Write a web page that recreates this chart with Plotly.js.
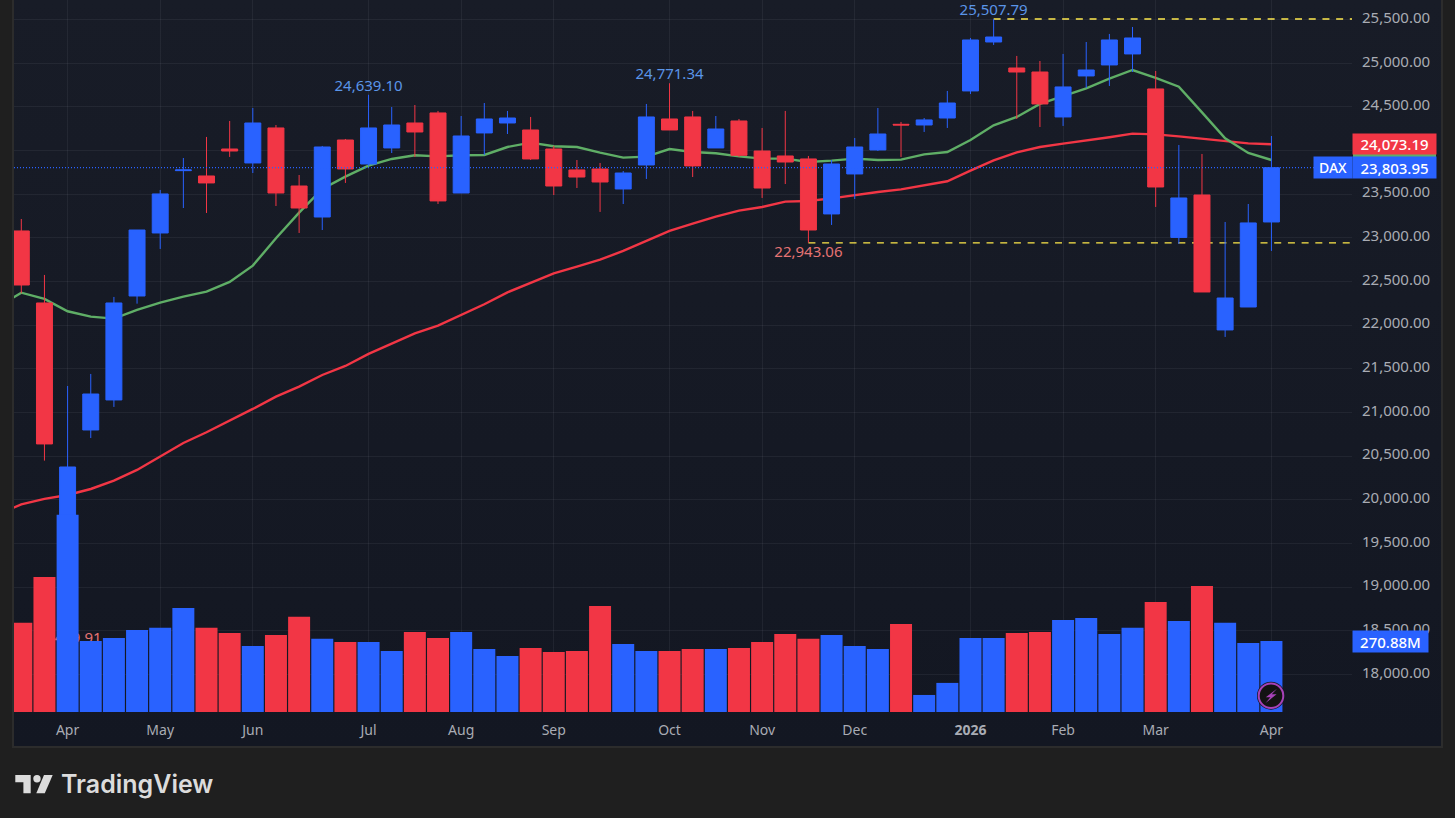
<!DOCTYPE html>
<html>
<head>
<meta charset="utf-8">
<script src="https://cdn.plot.ly/plotly-3.0.1.min.js"></script>
<style>
html,body{margin:0;padding:0;background:#1f1f1f;overflow:hidden;width:1455px;height:818px}
#pane{position:absolute;left:12px;top:-2px;width:1427px;height:746px;border:2px solid #2c2c2c;background:linear-gradient(#181c27,#131722)}
#chart{position:absolute;left:0;top:0;width:1455px;height:818px}
</style>
</head>
<body>
<div id="pane"></div>
<div id="chart"></div>
<script>
const weeks = ["2025-03-24","2025-03-31","2025-04-07","2025-04-14","2025-04-21","2025-04-28","2025-05-05","2025-05-12","2025-05-19","2025-05-26","2025-06-02","2025-06-09","2025-06-16","2025-06-23","2025-06-30","2025-07-07","2025-07-14","2025-07-21","2025-07-28","2025-08-04","2025-08-11","2025-08-18","2025-08-25","2025-09-01","2025-09-08","2025-09-15","2025-09-22","2025-09-29","2025-10-06","2025-10-13","2025-10-20","2025-10-27","2025-11-03","2025-11-10","2025-11-17","2025-11-24","2025-12-01","2025-12-08","2025-12-15","2025-12-22","2025-12-29","2026-01-05","2026-01-12","2026-01-19","2026-01-26","2026-02-02","2026-02-09","2026-02-16","2026-02-23","2026-03-02","2026-03-09","2026-03-16","2026-03-23","2026-03-30","2026-04-06"];
const opens = [23079,22254,19800,20799,21143,22334,23056,23770,23709,24018,23858,24259,23594,23239,24121,23846,24030,24316,24431,23514,24202,24316,24236,24018,23778,23789,23560,23835,24362,24385,24030,24339,23995,23938,23904,23274,23732,24007,24301,24293,24373,24683,25244,24946,24900,24385,24855,24981,25107,24706,23005,23491,21945,22208,23182];
const highs = [23216,22575,21303,21441,22323,23090,23549,23915,24156,24339,24488,24293,23720,24053,24133,24639.10,24499,24522,24454,24396,24545,24454,24385,24053,23892,23858,23766,24534,24771.34,24454,24396,24362,24259,24454,23938,23892,24144,24488,24328,24373,24683,25290,25507.79,25084,25026,25107,25244,25336,25416,24912,24064,23961,23182,23388,24167];
const lows = [22365,20448,18489.91,20707,21063,22246,22873,23342,23285,23927,23743,23365,23056,23090,23629,23824,23972,23927,23388,23514,23950,24190,23892,23491,23571,23297,23388,23675,24236,23697,24030,23927,23457,23617,22943.06,23148,23445,23995,23927,24213,24259,24648,25210,24362,24270,24282,24717,24740,24900,23354,22930,22380,21865,22208,22850];
const closes = [22460,20639,20375,21211,22254,23090,23503,23778,23629,23995,24316,23514,23342,24041,23789,24259,24293,24213,23423,24167,24362,24373,23904,23594,23697,23640,23743,24385,24236,23824,24247,23946,23571,23869,23090,23846,24041,24190,24293,24351,24545,25267,25301,24900,24534,24729,24923,25267,25290,23583,23457,22380,22311,23171,23803.95];
const volumes = [340,515,752,271,282,313,321,397,321,301,252,294,363,279,267,267,233,305,282,305,240,214,244,229,233,404,259,233,233,240,240,244,267,298,279,294,252,240,336,65,111,282,282,301,305,351,359,298,321,420,347,481,340,263,270.88];
const maDates = ["2025-03-17"].concat(weeks);
const greenMA = [22208,22372,22300,22159,22097,22075,22174,22258,22327,22384,22495,22682,22995,23289,23560,23701,23827,23904,23946,23934,23946,23950,24041,24091,24049,24041,23976,23919,23930,24018,23984,23969,23934,23908,23908,23869,23885,23908,23892,23896,23957,23984,24121,24289,24385,24534,24625,24713,24824,24923,24832,24732,24438,24140,23972,23892];
const redMA = [19837,19946,20009,20054,20123,20218,20341,20493,20650,20773,20902,21040,21181,21296,21429,21532,21670,21792,21906,21994,22117,22239,22376,22487,22594,22670,22750,22850,22968,23079,23163,23243,23312,23354,23415,23423,23453,23491,23526,23556,23598,23648,23770,23888,23980,24041,24079,24114,24152,24194,24186,24163,24137,24106,24083,24073.19];
const priceTicks = [18000,18500,19000,19500,20000,20500,21000,21500,22000,22500,23000,23500,24000,24500,25000,25500];
const timeTickDates = ["2025-04-07","2025-05-05","2025-06-02","2025-07-07","2025-08-04","2025-09-01","2025-10-06","2025-11-03","2025-12-01","2026-01-05","2026-02-02","2026-03-02","2026-04-06"];
const timeTickLabels = ["Apr","May","Jun","Jul","Aug","Sep","Oct","Nov","Dec","<b>2026</b>","Feb","Mar","Apr"];
const highLabelDates = ["2025-07-07","2025-10-06","2026-01-12"];
const highLabelValues = [24639.10,24771.34,25507.79];
const lowLabelDates = ["2025-11-17"];
const lowLabelValues = [22943.06];
const hiddenLowDates = ["2025-04-07"];
const hiddenLowValues = [18489.91];
const labelText = v => v.toLocaleString("en-US",{minimumFractionDigits:2,maximumFractionDigits:2});

const BLUE="#2962ff", RED="#f23645", GREEN="#5fae66", YELLOW="#ffe94a", TICK="#a9acb4";
const FONT="'Noto Sans', sans-serif";
const L=14,R=1352,T=0,B=712;
const px=x=>(x-L)/(R-L), py=y=>(B-y)/(B-T);
const xRange=["2025-03-21 19:00","2026-04-30 08:40"], yRange=[17568,25725];

const traces=[
 {type:"scatter",mode:"lines",x:maDates,y:redMA,line:{color:RED,width:2.4},hoverinfo:"skip",xaxis:"x",yaxis:"y"},
 {type:"scatter",mode:"lines",x:maDates,y:greenMA,line:{color:GREEN,width:2.4},hoverinfo:"skip",xaxis:"x",yaxis:"y"},
 {type:"scatter",mode:"text",x:highLabelDates,y:highLabelValues,text:highLabelValues.map(labelText),textposition:"top center",textfont:{family:FONT,size:15,color:"#5b95e8"},hoverinfo:"skip",xaxis:"x",yaxis:"y"},
 {type:"scatter",mode:"markers+text",x:lowLabelDates,y:lowLabelValues,text:lowLabelValues.map(labelText),textposition:"bottom center",marker:{size:3,opacity:0},textfont:{family:FONT,size:15,color:"#e57373"},hoverinfo:"skip",xaxis:"x",yaxis:"y"},
 {type:"scatter",mode:"text",x:hiddenLowDates,y:hiddenLowValues,text:hiddenLowValues.map(labelText),textposition:"bottom center",textfont:{family:FONT,size:15,color:"#e57373"},hoverinfo:"skip",xaxis:"x",yaxis:"y"},
 {type:"candlestick",x:weeks,open:opens,high:highs,low:lows,close:closes,whiskerwidth:0,
  increasing:{line:{color:BLUE,width:1},fillcolor:BLUE},decreasing:{line:{color:RED,width:1},fillcolor:RED},hoverinfo:"skip",xaxis:"x",yaxis:"y2"},
 {type:"bar",x:weeks,y:volumes,marker:{color:weeks.map((_,i)=>closes[i]>=opens[i]?BLUE:RED),line:{width:0}},hoverinfo:"skip",xaxis:"x",yaxis:"y3"}
];

function box(text,x0,x1,y0,y1,bg,size){
 return {xref:"paper",yref:"paper",x:px((x0+x1)/2),y:py((y0+y1)/2),xanchor:"center",yanchor:"middle",
  width:x1-x0,height:y1-y0,bgcolor:bg,borderpad:0,showarrow:false,align:"center",valign:"middle",text:text,
  font:{family:FONT,size:size||15,color:"#ffffff",weight:500}};
}
const annotations=[
 box(labelText(closes[closes.length-1]),1353,1436,157,178,BLUE),
 box(labelText(redMA[redMA.length-1]),1353,1436,134,154.4,RED),
 box("DAX",1314,1352,157,178,BLUE,14),
 box("270.88M",1353,1428,631,652,BLUE),
 {xref:"paper",yref:"paper",x:px(58.5),y:py(784),xanchor:"left",yanchor:"middle",showarrow:false,text:"TradingView",
  font:{family:"Inter, sans-serif",size:25,color:"#dcdcdc",weight:600}}
];
const circle=(cx,cy,r,fill,line,w)=>({type:"circle",xref:"paper",yref:"paper",x0:px(cx-r),x1:px(cx+r),y0:py(cy+r),y1:py(cy-r),fillcolor:fill,line:{color:line,width:w},layer:"above"});
const poly=(pts,fill)=>({type:"path",xref:"paper",yref:"paper",path:"M"+pts.map(p=>px(p[0])+","+py(p[1])).join("L")+"Z",fillcolor:fill,line:{width:0},layer:"above"});
const shapes=[
 {type:"line",xref:"x",yref:"y",x0:"2026-01-12",x1:xRange[1],y0:25507.79,y1:25507.79,line:{color:YELLOW,width:1.4,dash:"7px,6.7px"},layer:"below"},
 {type:"line",xref:"x",yref:"y",x0:"2025-11-17",x1:xRange[1],y0:22943.06,y1:22943.06,line:{color:YELLOW,width:1.4,dash:"7px,6.7px"},layer:"below"},
 {type:"line",xref:"paper",yref:"y",x0:0,x1:px(1314),y0:23803.95,y1:23803.95,line:{color:BLUE,width:1.2,dash:"1px,2px"},layer:"above"},
 poly([[1353,154],[1436,154],[1436,157],[1353,157]],GREEN),
 circle(1271,695.7,14,"#131722","#131722",0),
 circle(1271,695.7,12.3,"#131313","#a742b8",2),
 poly([[1277,688.8],[1265.8,697.2],[1270.4,697.2],[1265.6,703],[1276.6,694.2],[1271.8,694.2]],"#a742b8"),
 poly([[15.3,775],[30.7,775],[30.7,793.3],[23.4,793.3],[23.4,782.3],[15.3,782.3]],"#dcdcdc"),
 circle(37,778.7,3.7,"#dcdcdc","#dcdcdc",0),
 poly([[44,775],[52.7,775],[44.8,793.3],[36.3,793.3]],"#dcdcdc")
];
const layout={
 width:1455,height:818,margin:{l:L,r:1455-R,t:T,b:818-B,pad:0},autosize:false,
 paper_bgcolor:"rgba(0,0,0,0)",plot_bgcolor:"rgba(0,0,0,0)",showlegend:false,bargap:0.05,boxgap:0.31,boxgroupgap:0,
 xaxis:{type:"date",range:xRange,tickmode:"array",tickvals:timeTickDates,ticktext:timeTickLabels,tickangle:0,
  tickfont:{family:FONT,size:14,color:TICK},showgrid:true,gridcolor:"rgba(240,243,250,0.06)",gridwidth:1,zeroline:false,showline:false,
  ticks:"outside",ticklen:5,tickcolor:"rgba(0,0,0,0)",rangeslider:{visible:false},fixedrange:true},
 yaxis:{range:yRange,side:"right",tickmode:"array",tickvals:priceTicks,tickformat:",.2f",
  tickfont:{family:FONT,size:15,color:TICK},showgrid:true,gridcolor:"rgba(240,243,250,0.06)",gridwidth:1,zeroline:false,showline:false,
  ticks:"outside",ticklen:6,tickcolor:"rgba(0,0,0,0)",ticklabelshift:-2,fixedrange:true},
 yaxis2:{range:yRange,overlaying:"y",side:"right",visible:false,fixedrange:true},
 yaxis3:{range:[0,2716],overlaying:"y",side:"left",visible:false,fixedrange:true},
 annotations:annotations,shapes:shapes
};
Plotly.newPlot("chart",traces,layout,{staticPlot:true,displayModeBar:false});
</script>
</body>
</html>
